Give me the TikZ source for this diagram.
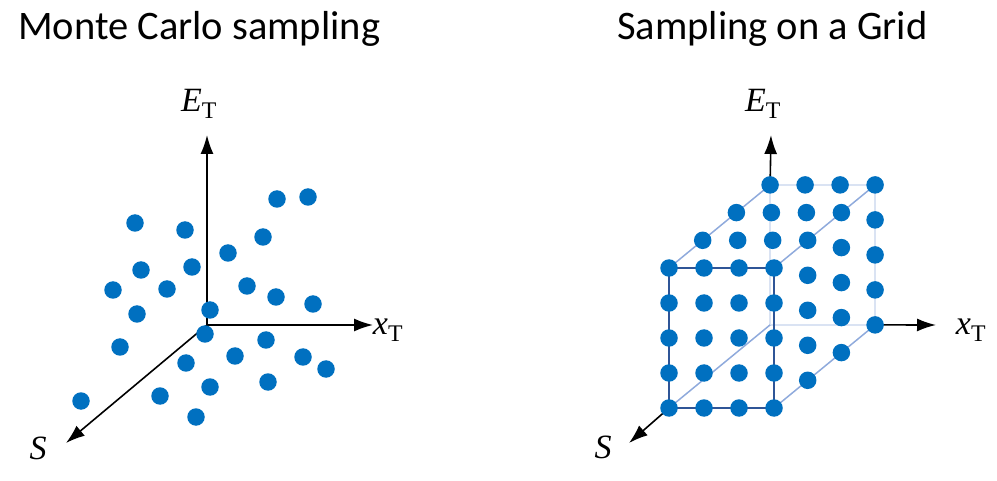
\documentclass[tikz,border=0pt]{standalone}
\usepackage{fontspec}
\setmainfont{Carlito}
\newfontfamily\tms{Liberation Serif}
\usetikzlibrary{arrows.meta}
\definecolor{dotblue}{HTML}{0070C0}
\definecolor{frontedge}{HTML}{2F5597}
\definecolor{midedge}{HTML}{8FAADC}
\definecolor{backedge}{HTML}{DAE3F3}
\tikzset{
  dot/.style={circle,fill=dotblue,inner sep=0pt,minimum size=17.5pt},
  axis/.style={line width=1.6pt,black,-{Latex[length=19pt,width=13pt]}},
  axlabel/.style={font=\tms\fontsize{34}{34}\selectfont,inner sep=0pt},
  title/.style={font=\fontsize{40.5}{40.5}\selectfont,inner sep=0pt,anchor=base west},
  fedge/.style={line width=1.5pt,frontedge},
  medge/.style={line width=1.5pt,midedge},
  bedge/.style={line width=1.5pt,backedge}
}
\begin{document}
\begin{tikzpicture}[x=1pt,y=-1pt]
\useasboundingbox (0,0) rectangle (997,481);
% titles
\node[title] (t1) at (18,40) {Monte Carlo sampling};
\node[title] (t2) at (617,40) {Sampling on a Grid};
% ---------- left panel ----------
\coordinate (O) at (207,325);
\coordinate (Le) at (207,135);
\coordinate (Lx) at (373,325);
\coordinate (Ls) at (66,443);
\draw[axis] (O) -- (Le);
\draw[axis] (O) -- (Lx);
\draw[axis] (O) -- (Ls);
\node[axlabel] (lE) at (199,104) {\textit{E}\textsubscript{T}};
\node[axlabel] (lX) at (388,330) {\textit{x}\textsubscript{T}};
\node[axlabel] (lS) at (38,448) {\textit{S}};
\foreach \px/\py [count=\n] in {135/223,185/230,277/199,308/197,263/237,228/253,
  141/270,192/267,113/290,167/289,247/286,276/297,313/304,137/314,210/310,
  205/334,120/347,266/340,235/356,186/363,303/357,326/369,268/382,210/387,
  160/396,81/401,196/417}
  \node[dot] (m\n) at (\px,\py) {};
% ---------- right panel ----------
\coordinate (F00) at (669,408);
\coordinate (F30) at (774,408);
\coordinate (F34) at (774,268);
\coordinate (F04) at (669,268);
\coordinate (B00) at (770.1,324.9);
\coordinate (B30) at (875.1,324.9);
\coordinate (B34) at (875.1,184.9);
\coordinate (B04) at (770.1,184.9);
\draw[bedge] (B04) -- (B34) -- (B30) -- (B00) -- cycle;
\draw[medge] (F04) -- (B04);
\draw[medge] (F34) -- (B34);
\draw[medge] (F30) -- (B30);
\draw[medge] (F00) -- (B00);
\draw[fedge] (F00) -- (F30) -- (F34) -- (F04) -- cycle;
\coordinate (Re) at (771,135);
\coordinate (Rx) at (936,325);
\coordinate (Rs) at (629,443);
\draw[axis] (B04) -- (Re);
\draw[axis] (B30) -- (Rx);
\draw[axis] (F00) -- (Rs);
\node[axlabel] (rE) at (763,104) {\textit{E}\textsubscript{T}};
\node[axlabel] (rX) at (971,330) {\textit{x}\textsubscript{T}};
\node[axlabel] (rS) at (603,447) {\textit{S}};
% front face dots
\foreach \i in {0,...,3}
  \foreach \j in {0,...,4}
    \node[dot] (f-\i-\j) at ({669+35*\i},{408-35*\j}) {};
% top face dots
\foreach \i in {0,...,3}
  \foreach \k in {1,2,3}
    \node[dot] (t-\i-\k) at ({669+35*\i+33.7*\k},{268-27.7*\k}) {};
% right face dots
\foreach \k in {1,2,3}
  \foreach \j in {0,...,3}
    \node[dot] (r-\k-\j) at ({774+33.7*\k},{408-35*\j-27.7*\k}) {};
\end{tikzpicture}
\end{document}
